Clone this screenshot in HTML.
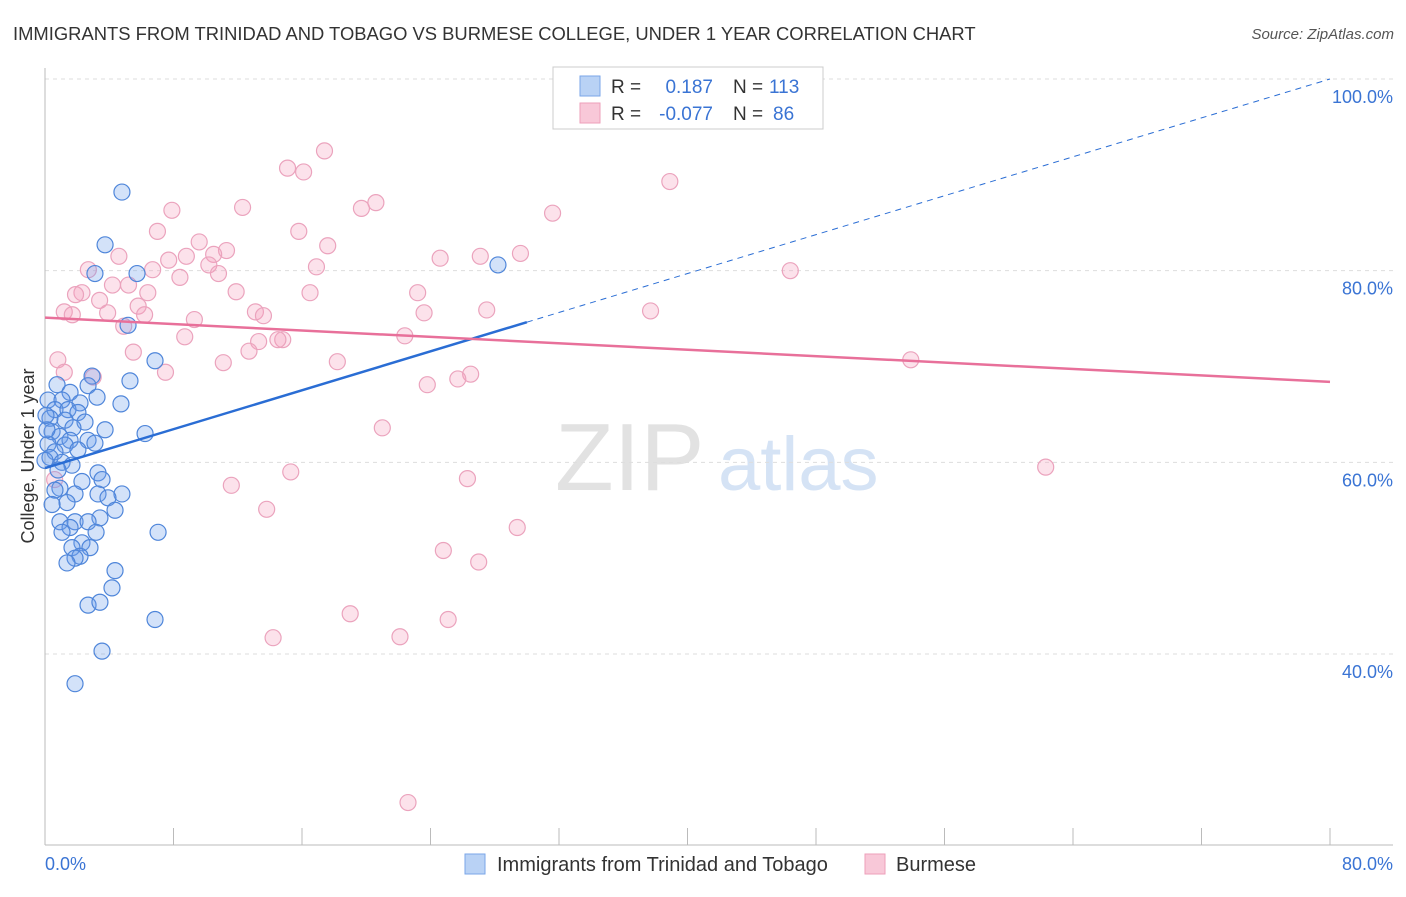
<!DOCTYPE html>
<html><head><meta charset="utf-8"><style>
body{margin:0;background:#fff;font-family:"Liberation Sans",sans-serif;}
svg text{font-family:"Liberation Sans",sans-serif;}
</style></head><body>
<svg id="chart" width="1406" height="892" viewBox="0 0 1406 892" xmlns="http://www.w3.org/2000/svg">
<text x="13" y="40" font-size="18.4" fill="#333">IMMIGRANTS FROM TRINIDAD AND TOBAGO VS BURMESE COLLEGE, UNDER 1 YEAR CORRELATION CHART</text>
<text x="1394" y="39" font-size="15" fill="#555" font-style="italic" text-anchor="end">Source: ZipAtlas.com</text>
<g>
<text x="555" y="490" font-size="96" font-family="Liberation Serif,serif" fill="#e2e2e2">ZIP</text>
<text x="718" y="490" font-size="76" fill="#d5e3f5">atlas</text>
</g>
<g id="grid"></g>
<g id="axes"></g>
<g id="points"></g>
<g id="trends"></g>
<text transform="translate(34,456) rotate(-90)" font-size="18" fill="#333" text-anchor="middle">College, Under 1 year</text>
<g>
<rect x="553" y="67" width="270" height="62" fill="#fff" stroke="#ccc"/>
<rect x="580" y="76" width="20" height="20" fill="#b9d2f5" stroke="#7aa6e8"/>
<rect x="580" y="103" width="20" height="20" fill="#f8c8d8" stroke="#ee9fba"/>
<text x="611" y="93" font-size="19" fill="#333">R =</text>
<text x="713" y="93" font-size="19" fill="#3a74d4" text-anchor="end">0.187</text>
<text x="733" y="93" font-size="19" fill="#333">N =</text>
<text x="769" y="93" font-size="19" fill="#3a74d4">113</text>
<text x="611" y="120" font-size="19" fill="#333">R =</text>
<text x="713" y="120" font-size="19" fill="#3a74d4" text-anchor="end">-0.077</text>
<text x="733" y="120" font-size="19" fill="#333">N =</text>
<text x="773" y="120" font-size="19" fill="#3a74d4">86</text>
</g>
<g>
<rect x="465" y="854" width="20" height="20" fill="#b9d2f5" stroke="#7aa6e8"/>
<text x="497" y="871" font-size="20" fill="#333">Immigrants from Trinidad and Tobago</text>
<rect x="865" y="854" width="20" height="20" fill="#f8c8d8" stroke="#ee9fba"/>
<text x="896" y="871" font-size="20" fill="#333">Burmese</text>
</g>
</svg>
<script>
const xTicks=[0,8,16,24,32,40,48,56,64,72,80];
const yTicks=[40,60,80,100];
const yTickLabels=["40.0%","60.0%","80.0%","100.0%"];
const xEndLabels=["0.0%","80.0%"];
const blueX=[4.79,3.74,5.73,3.11,5.17,6.85,5.29,2.93,2.68,0.75,1.56,3.24,4.73,0.19,1.06,2.18,0.62,1.43,2.05,0.31,1.25,2.49,1.74,3.74,6.23,0.44,0.93,1.56,2.68,0.19,1.25,3.11,2.05,0.62,0.31,1.06,1.68,0.81,3.30,2.30,3.55,0.93,0.62,3.30,4.79,1.87,3.92,1.37,0.44,4.36,3.42,0.93,1.87,2.68,1.56,1.06,3.18,7.04,2.30,1.68,2.80,2.18,1.87,1.37,4.36,4.17,2.68,3.42,6.85,3.55,1.87,28.2,0,0.12,0.06];
const blueY=[88.2,82.7,79.7,79.7,74.3,70.6,68.5,69.0,68.0,68.1,67.3,66.8,66.1,66.5,66.5,66.2,65.5,65.5,65.2,64.6,64.4,64.2,63.6,63.4,63.0,63.2,62.7,62.3,62.3,61.9,61.8,62.0,61.3,61.1,60.5,60.0,59.7,59.2,58.9,58.0,58.2,57.3,57.1,56.7,56.7,56.7,56.3,55.8,55.6,55.0,54.2,53.8,53.8,53.8,53.2,52.7,52.7,52.7,51.6,51.1,51.1,50.2,50.0,49.5,48.7,46.9,45.1,45.4,43.6,40.3,36.9,80.6,60.2,63.4,64.9];
const pinkX=[32.2,17.4,15.1,16.1,38.9,20.6,19.7,12.3,7.9,31.6,7.0,15.8,9.6,17.6,11.3,10.5,8.8,27.1,29.6,4.6,7.7,24.6,10.2,16.9,6.7,2.7,8.4,10.8,46.4,5.2,4.2,2.3,1.9,6.4,11.9,16.5,23.2,3.4,5.8,1.2,3.9,13.1,6.2,13.6,27.5,23.6,37.7,1.7,9.3,4.9,8.7,14.8,13.3,14.5,22.4,5.5,12.7,0.8,11.1,18.2,53.9,1.2,7.5,3.0,26.5,25.7,23.8,21.0,15.3,62.3,11.6,26.3,13.8,29.4,24.8,27.0,19.0,25.1,14.2,22.1,22.6,0.6];
const pinkY=[100.1,92.5,90.7,90.3,89.3,87.1,86.5,86.6,86.3,86.0,84.1,84.1,83.0,82.6,82.1,81.7,81.5,81.5,81.8,81.5,81.1,81.3,80.6,80.4,80.1,80.1,79.3,79.7,80.0,78.5,78.5,77.7,77.5,77.7,77.8,77.7,77.7,76.9,76.3,75.7,75.6,75.7,75.4,75.3,75.9,75.6,75.8,75.4,74.9,74.2,73.1,72.8,72.6,72.8,73.2,71.5,71.6,70.7,70.4,70.5,70.7,69.4,69.4,68.9,69.2,68.7,68.1,63.6,59.0,59.5,57.6,58.3,55.1,53.2,50.8,49.6,44.2,43.6,41.7,41.8,24.5,58.2];
const blueTrend=[59.4,100.0];
const blueSolidEnd=30;
const pinkTrend=[75.1,68.4];

const NS="http://www.w3.org/2000/svg";
const X0=45,X1=1330,Y100=79,Y40=654;
const sx=v=>X0+(v/80)*(X1-X0);
const sy=v=>Y100+(100-v)*(Y40-Y100)/60;
function mk(parent,tag,attrs){const e=document.createElementNS(NS,tag);for(const k in attrs)e.setAttribute(k,attrs[k]);parent.appendChild(e);return e;}
const grid=document.getElementById('grid'),axes=document.getElementById('axes'),pts=document.getElementById('points'),tr=document.getElementById('trends');
yTicks.forEach((t,i)=>{
  const l=mk(grid,'line',{x1:X0,x2:1393,y1:sy(t),y2:sy(t),stroke:'#ddd','stroke-dasharray':'4,4'});
  
  
  const tx=mk(axes,'text',{x:1393,y:sy(t)+24,'font-size':18,fill:'#3a74d4','text-anchor':'end'});
  tx.textContent=yTickLabels[i];
  
  
});
const xa=mk(axes,'line',{x1:X0,x2:1393,y1:845,y2:845,stroke:'#bbb'});


const ya=mk(axes,'line',{x1:X0,x2:X0,y1:68,y2:845,stroke:'#bbb'});


xTicks.forEach(t=>{
  const l=mk(axes,'line',{x1:sx(t),x2:sx(t),y1:828,y2:845,stroke:'#bbb'});
  
  
});
[[0,'start',45],[80,'end',1393]].forEach((d,i)=>{
  const tx=mk(axes,'text',{x:d[2],y:870,'font-size':18,fill:'#3a74d4','text-anchor':d[1]});
  tx.textContent=xEndLabels[i];
  
  
});
pinkX.forEach((v,i)=>{
  const c=mk(pts,'circle',{cx:sx(v),cy:sy(pinkY[i]),r:8,fill:'rgba(244,160,190,0.3)',stroke:'#eba3bd','stroke-width':1.2});
  
  
});
blueX.forEach((v,i)=>{
  const c=mk(pts,'circle',{cx:sx(v),cy:sy(blueY[i]),r:8,fill:'rgba(110,160,235,0.3)',stroke:'#4f86da','stroke-width':1.2});
  
  
});
const by=x=>blueTrend[0]+(blueTrend[1]-blueTrend[0])*x/80;
const b1=mk(tr,'line',{x1:sx(0),y1:sy(by(0)),x2:sx(blueSolidEnd),y2:sy(by(blueSolidEnd)),stroke:'#2a6dd4','stroke-width':2.5});


const b2=mk(tr,'line',{x1:sx(blueSolidEnd),y1:sy(by(blueSolidEnd)),x2:sx(80),y2:sy(by(80)),stroke:'#2a6dd4','stroke-width':1,'stroke-dasharray':'6,5'});


const p1=mk(tr,'line',{x1:sx(0),y1:sy(pinkTrend[0]),x2:sx(80),y2:sy(pinkTrend[1]),stroke:'#e8709a','stroke-width':2.5});


</script>
</body></html>
